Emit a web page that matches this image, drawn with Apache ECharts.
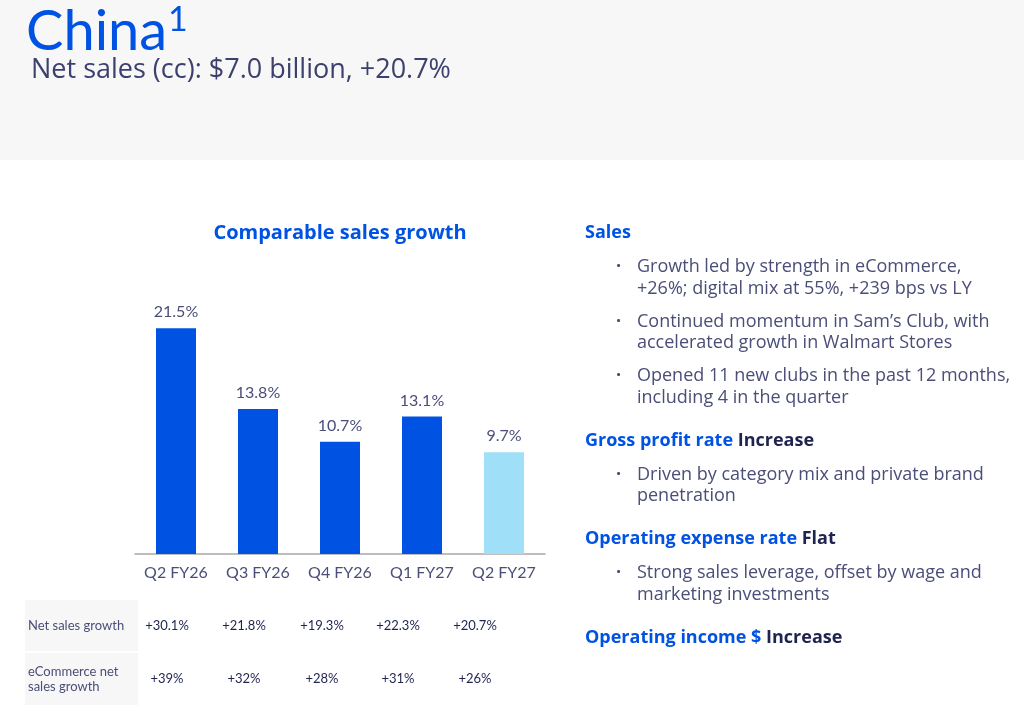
<!DOCTYPE html>
<html>
<head>
<meta charset="utf-8">
<script src="https://cdn.jsdelivr.net/npm/echarts@6/dist/echarts.min.js"></script>
<style>
  html, body { margin: 0; padding: 0; background: #fff; }
  #main { width: 1024px; height: 715px; }
</style>
</head>
<body>
<div id="main"></div>
<script>
// 数据
const quarters = ['Q2 FY26', 'Q3 FY26', 'Q4 FY26', 'Q1 FY27', 'Q2 FY27'];
const compSalesGrowth = [21.5, 13.8, 10.7, 13.1, 9.7];
const netSalesGrowth = ['+30.1%', '+21.8%', '+19.3%', '+22.3%', '+20.7%'];
const ecomGrowth = ['+39%', '+32%', '+28%', '+31%', '+26%'];
const currentIndex = 4;

const headerTitle = 'China';
const headerSub = 'Net sales (cc): $7.0 billion, +20.7%';
const chartTitle = 'Comparable sales growth';

// 右侧说明文字: [蓝色标题, 黑色结论, 要点行]
const notes = [
  ['Sales', '', [['Growth led by strength in eCommerce,', '+26%; digital mix at 55%, +239 bps vs LY'],
                 ['Continued momentum in Sam\u2019s Club, with', 'accelerated growth in Walmart Stores'],
                 ['Opened 11 new clubs in the past 12 months,', 'including 4 in the quarter']]],
  ['Gross profit rate', 'Increase', [['Driven by category mix and private brand', 'penetration']]],
  ['Operating expense rate', 'Flat', [['Strong sales leverage, offset by wage and', 'marketing investments']]],
  ['Operating income $', 'Increase', []]
];

const BLUE = '#0053e2';
const SKY = '#a0dff8';
const TEXT = '#4a4e78';
const DARK = '#1e2350';
const FONT = 'Lato, "Open Sans", sans-serif';
const BODY = '"Open Sans", Lato, sans-serif';

const chart = echarts.init(document.getElementById('main'), null, { renderer: 'canvas' });

// 生成图形元素
const graphics = [];
graphics.push({ type: 'rect', left: 0, top: 0, z: -10, shape: { width: 1024, height: 160 }, style: { fill: '#f7f7f7' } });
graphics.push({ type: 'text', x: 26, y: 4, style: { text: headerTitle, fill: BLUE, font: '400 56px ' + FONT } });
graphics.push({ type: 'text', x: 168, y: 3, style: { text: '1', fill: BLUE, font: '400 34px ' + FONT } });
graphics.push({ type: 'text', x: 31, y: 57, style: { text: headerSub, fill: '#3c406c', font: '400 27px ' + BODY } });
graphics.push({ type: 'text', x: 340, y: 233, style: { text: chartTitle, fill: BLUE, font: '700 20px ' + BODY, textAlign: 'center', textVerticalAlign: 'middle' } });

// 表格
const colX = [167, 244, 322, 398, 475];
const rows = [
  { y: 600, h: 51, label: ['Net sales growth'], vals: netSalesGrowth },
  { y: 653, h: 52, label: ['eCommerce net', 'sales growth'], vals: ecomGrowth }
];
rows.forEach(r => {
  graphics.push({ type: 'rect', shape: { x: 25, y: r.y, width: 113, height: r.h }, style: { fill: '#f7f7f7' } });
  const cy = r.y + r.h / 2;
  r.label.forEach((t, i) => {
    const ly = cy + (i - (r.label.length - 1) / 2) * 15;
    graphics.push({ type: 'text', x: 28, y: ly, style: { text: t, fill: TEXT, font: '400 13px ' + FONT, textVerticalAlign: 'middle' } });
  });
  r.vals.forEach((v, i) => {
    graphics.push({ type: 'text', x: colX[i], y: cy, style: { text: v, fill: DARK, font: '400 13px ' + FONT, textAlign: 'center', textVerticalAlign: 'middle' } });
  });
});

// 右侧说明
let ny = 233;
notes.forEach(n => {
  graphics.push({
    type: 'text', x: 585, y: ny,
    style: {
      text: '{h|' + n[0] + '}' + (n[1] ? '{b| ' + n[1] + '}' : ''),
      textVerticalAlign: 'middle',
      rich: {
        h: { fill: BLUE, font: '700 18px ' + BODY },
        b: { fill: DARK, font: '700 18px ' + BODY }
      }
    }
  });
  ny += 34;
  n[2].forEach(b => {
    graphics.push({ type: 'text', x: 616, y: ny, style: { text: '\u00b7', fill: TEXT, font: '700 18px ' + BODY, textVerticalAlign: 'middle' } });
    b.forEach((line, i) => {
      graphics.push({ type: 'text', x: 637, y: ny + i * 21.5, style: { text: line, fill: TEXT, font: '400 18px ' + BODY, textVerticalAlign: 'middle' } });
    });
    ny += 21.5 * (b.length - 1) + 33;
  });
  if (n[2].length) ny += 10;
});

const option = {
  animation: false,
  backgroundColor: '#ffffff',
  grid: { left: 135, width: 410, top: 291.5, height: 262.5 },
  xAxis: {
    type: 'category',
    data: quarters,
    axisTick: { show: false },
    axisLine: { lineStyle: { color: '#a8a8a8', width: 1.5 } },
    axisLabel: { color: TEXT, fontSize: 16, fontFamily: FONT, margin: 11, interval: 0 }
  },
  yAxis: { type: 'value', min: 0, max: 25, show: false, splitLine: { show: false } },
  series: [{
    type: 'bar',
    barWidth: 40,
    data: compSalesGrowth.map((v, i) => ({ value: v, itemStyle: { color: i === currentIndex ? SKY : BLUE } })),
    label: {
      show: true,
      position: 'top',
      distance: 8,
      formatter: '{c}%',
      color: TEXT,
      fontSize: 16,
      fontFamily: FONT
    }
  }],
  graphic: graphics
};

chart.setOption(option);
</script>
</body>
</html>
